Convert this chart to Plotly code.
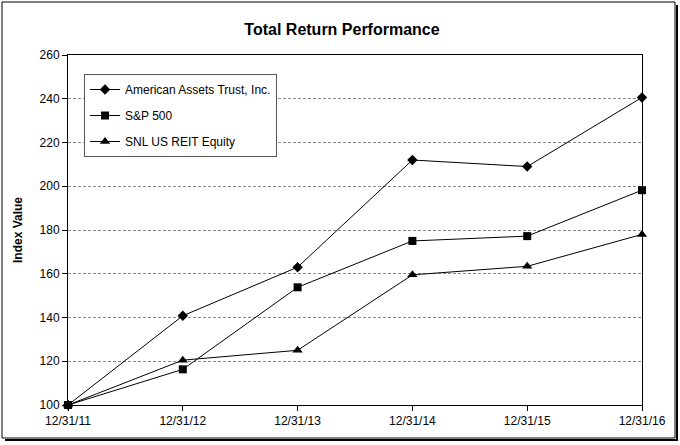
import plotly.graph_objects as go

dates = ["12/31/11", "12/31/12", "12/31/13", "12/31/14", "12/31/15", "12/31/16"]
aat = [100, 140.8, 163, 212, 209, 240.6]
sp500 = [100, 116.3, 153.8, 175, 177.2, 198.2]
reit = [100, 120.5, 125, 159.5, 163.4, 178]
y_ticks = [100, 120, 140, 160, 180, 200, 220, 240, 260]

W, H = 680, 445
L, R, T, B = 68, 642, 55, 405
pw, ph = R - L, B - T

def px_x(x):
    return (x - L) / pw

def px_y(y):
    return (B - y) / ph

fig = go.Figure()
series = [
    ("American Assets Trust, Inc.", aat, "diamond", 8),
    ("S&P 500", sp500, "square", 8),
    ("SNL US REIT Equity", reit, "triangle-up", 9),
]
for i, (name, vals, sym, sz) in enumerate(series):
    fig.add_trace(go.Scatter(
        x=list(range(len(dates))), y=vals, name=name, mode="lines+markers",
        line=dict(color="black", width=1),
        marker=dict(symbol=sym, size=sz, color="black"),
        legendgroup=f"g{i}", cliponaxis=False,
    ))

fig.update_layout(
    width=W, height=H,
    margin=dict(l=L, r=W - R, t=T, b=H - B),
    paper_bgcolor="white", plot_bgcolor="white",
    font=dict(family="Liberation Sans, Arial", size=12, color="black"),
    title=dict(text="<b>Total Return Performance</b>", x=px_x(342), xref="paper",
               xanchor="center", y=1 - 29 / H, yanchor="middle",
               font=dict(size=16)),
    showlegend=True,
    legend=dict(x=px_x(84), y=px_y(74), xanchor="left", yanchor="top",
                bordercolor="#555", borderwidth=1, bgcolor="white",
                font=dict(size=12), tracegroupgap=7,
                entrywidth=195, itemwidth=30),
    xaxis=dict(
        tickmode="array", tickvals=list(range(len(dates))), ticktext=dates,
        range=[0, len(dates) - 1], showgrid=False, zeroline=False,
        showline=True, linecolor="black", linewidth=1, mirror=True,
        ticks="outside", ticklen=5, tickcolor="black",
    ),
    yaxis=dict(
        range=[100, 260], tickvals=y_ticks, showgrid=True,
        gridcolor="#8a8a8a", griddash="3px,2px", gridwidth=1, zeroline=False,
        showline=True, linecolor="black", linewidth=1, mirror=True,
        ticks="outside", ticklen=5, tickcolor="black",
    ),
    annotations=[dict(
        text="<b>Index Value</b>", xref="paper", yref="paper",
        x=px_x(18), y=0.5, textangle=-90, showarrow=False,
        xanchor="center", yanchor="middle", font=dict(size=12),
    )],
    shapes=[
        dict(type="rect", xref="paper", yref="paper",
             x0=px_x(2), x1=px_x(675), y0=px_y(2), y1=px_y(438),
             line=dict(color="black", width=1)),
        dict(type="line", xref="paper", yref="paper",
             x0=px_x(677), x1=px_x(677), y0=px_y(5), y1=px_y(440),
             line=dict(color="black", width=2)),
        dict(type="line", xref="paper", yref="paper",
             x0=px_x(5), x1=px_x(678), y0=px_y(440), y1=px_y(440),
             line=dict(color="black", width=2)),
    ],
)

fig.write_html(
    "out.html",
    config={"displayModeBar": False},
    post_script="document.body.style.margin='0';document.body.style.overflow='hidden';",
)
